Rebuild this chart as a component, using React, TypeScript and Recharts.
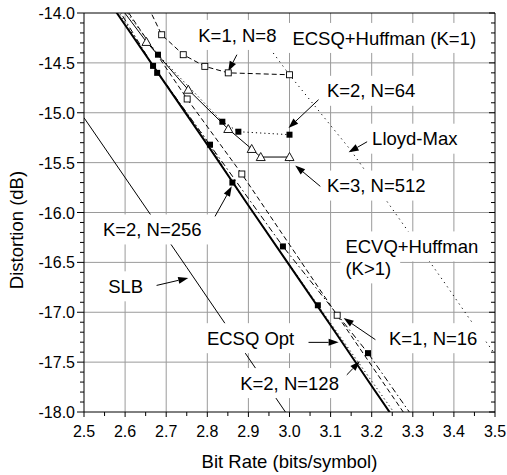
import {
  ComposedChart,
  Line,
  Scatter,
  XAxis,
  YAxis,
  CartesianGrid,
  ReferenceLine,
} from 'recharts'

// rate (bits/symbol) vs distortion (dB)
const slb = [
  { r: 2.5, d: -15.05 },
  { r: 2.75, d: -16.55 },
  { r: 3.0, d: -18.06 },
]
const ecsqOpt = [
  { r: 2.55, d: -13.82 },
  { r: 2.6, d: -14.12 },
  { r: 2.7, d: -14.72 },
  { r: 2.8, d: -15.32 },
  { r: 2.9, d: -15.93 },
  { r: 3.0, d: -16.53 },
  { r: 3.1, d: -17.13 },
  { r: 3.2, d: -17.74 },
  { r: 3.3, d: -18.34 },
]
const k1n8 = [
  { r: 2.64, d: -13.8 },
  { r: 2.689, d: -14.218 },
  { r: 2.7415, d: -14.418 },
  { r: 2.794, d: -14.535 },
  { r: 2.851, d: -14.6 },
  { r: 3.0, d: -14.619 },
]
const k1n16 = [
  { r: 2.576, d: -13.8 },
  { r: 2.751, d: -14.862 },
  { r: 2.884, d: -15.614 },
  { r: 3.116, d: -17.03 },
  { r: 3.285, d: -18.05 },
]
const k2n64 = [
  { r: 2.57, d: -13.8 },
  { r: 2.68, d: -14.418 },
  { r: 2.8366, d: -15.09 },
  { r: 2.8756, d: -15.19 },
  { r: 3.0, d: -15.22 },
]
const k2n128 = [
  { r: 2.56, d: -13.8 },
  { r: 2.668, d: -14.53 },
  { r: 2.984, d: -16.34 },
  { r: 3.191, d: -17.41 },
  { r: 3.3, d: -18.05 },
]
const k2n256 = [
  { r: 2.555, d: -13.8 },
  { r: 2.678, d: -14.6 },
  { r: 2.8066, d: -15.32 },
  { r: 2.861, d: -15.7 },
  { r: 3.069, d: -16.93 },
  { r: 3.262, d: -18.05 },
]
const k3n512 = [
  { r: 2.563, d: -13.8 },
  { r: 2.652, d: -14.29 },
  { r: 2.7537, d: -14.769 },
  { r: 2.851, d: -15.163 },
  { r: 2.908, d: -15.363 },
  { r: 2.93, d: -15.444 },
  { r: 3.0, d: -15.444 },
]
const lloydMax = [
  { r: 2.915, d: -14.15 },
  { r: 3.0, d: -14.62 },
  { r: 3.148, d: -15.37 },
  { r: 3.38, d: -16.72 },
  { r: 3.437, d: -17.06 },
  { r: 3.5, d: -17.42 },
]

const notes = [
  { r: 2.778, d: -14.22, text: 'K=1, N=8' },
  { r: 3.007, d: -14.25, text: 'ECSQ+Huffman (K=1)' },
  { r: 3.091, d: -14.78, text: 'K=2, N=64' },
  { r: 3.201, d: -15.26, text: 'Lloyd-Max' },
  { r: 3.091, d: -15.73, text: 'K=3, N=512' },
  { r: 2.546, d: -16.17, text: 'K=2, N=256' },
  { r: 2.559, d: -16.74, text: 'SLB' },
  { r: 3.136, d: -16.34, text: 'ECVQ+Huffman' },
  { r: 3.136, d: -16.56, text: '(K>1)' },
  { r: 3.242, d: -17.26, text: 'K=1, N=16' },
  { r: 2.799, d: -17.26, text: 'ECSQ Opt' },
  { r: 2.88, d: -17.71, text: 'K=2, N=128' },
]

// arrow tail -> tip
const arrows = [
  [{ x: 2.872, y: -14.418 }, { x: 2.851, y: -14.585 }],
  [{ x: 3.0707, y: -14.869 }, { x: 2.9976, y: -15.153 }],
  [{ x: 3.1976, y: -15.27 }, { x: 3.1439, y: -15.397 }],
  [{ x: 3.075, y: -15.738 }, { x: 3.0139, y: -15.528 }],
  [{ x: 2.8188, y: -16.039 }, { x: 2.8595, y: -15.738 }],
  [{ x: 2.6766, y: -16.731 }, { x: 2.7537, y: -16.657 }],
  [{ x: 3.0463, y: -17.302 }, { x: 3.1195, y: -17.302 }],
  [{ x: 3.209, y: -17.275 }, { x: 3.1317, y: -17.058 }],
  [{ x: 3.1359, y: -17.643 }, { x: 3.1712, y: -17.491 }],
]

const xTicks = [
  2.5, 2.55, 2.6, 2.65, 2.7, 2.75, 2.8, 2.85, 2.9, 2.95, 3.0,
  3.05, 3.1, 3.15, 3.2, 3.25, 3.3, 3.35, 3.4, 3.45, 3.5,
]
const yTicks = [
  -18, -17.9, -17.8, -17.7, -17.6, -17.5, -17.4, -17.3, -17.2, -17.1,
  -17, -16.9, -16.8, -16.7, -16.6, -16.5, -16.4, -16.3, -16.2, -16.1,
  -16, -15.9, -15.8, -15.7, -15.6, -15.5, -15.4, -15.3, -15.2, -15.1,
  -15, -14.9, -14.8, -14.7, -14.6, -14.5, -14.4, -14.3, -14.2, -14.1, -14,
]
const gridX = [2.6, 2.7, 2.8, 2.9, 3.0, 3.1, 3.2, 3.3, 3.4]
const gridY = [-17.5, -17, -16.5, -16, -15.5, -15, -14.5]

const FONT = "'Liberation Sans', Arial, sans-serif"
const NOTE_FS = 18.5

const isMajorX = (v: number) => Math.abs(v * 10 - Math.round(v * 10)) < 1e-6
const isMajorY = (v: number) => Math.abs(v * 2 - Math.round(v * 2)) < 1e-6

const BottomTick = ({ x, y, payload }: any) => {
  const major = isMajorX(payload.value)
  return (
    <g>
      <line x1={x} y1={y} x2={x} y2={y + (major ? 5 : 4)} stroke="#000" />
      {major && (
        <text x={x} y={y + 25} textAnchor="middle" fontSize={16} fontFamily={FONT} fill="#000">
          {payload.value.toFixed(1)}
        </text>
      )}
    </g>
  )
}
const TopTick = ({ x, y, payload }: any) => (
  <line x1={x} y1={y} x2={x} y2={y + (isMajorX(payload.value) ? 5 : 4)} stroke="#000" />
)
const LeftTick = ({ x, y, payload }: any) => {
  const major = isMajorY(payload.value)
  return (
    <g>
      <line x1={x} y1={y} x2={x - (major ? 7 : 4)} y2={y} stroke="#000" />
      {major && (
        <text x={x - 9} y={y + 6} textAnchor="end" fontSize={16} fontFamily={FONT} fill="#000">
          {payload.value.toFixed(1)}
        </text>
      )}
    </g>
  )
}
const RightTick = ({ x, y, payload }: any) => (
  <line x1={x} y1={y} x2={x - (isMajorY(payload.value) ? 6 : 4)} y2={y} stroke="#000" />
)

const openSquare = (p: any) => (
  <rect key={`os${p.index}`} x={p.cx - 3} y={p.cy - 3} width={6} height={6} fill="#fff" stroke="#000" strokeWidth={0.9} />
)
const filledSquare = (p: any) => (
  <rect key={`fs${p.index}`} x={p.cx - 3} y={p.cy - 3} width={6} height={6} fill="#000" />
)
const openTriangle = (p: any) => (
  <polygon
    key={`tr${p.index}`}
    points={`${p.cx},${p.cy - 4.5} ${p.cx - 4.5},${p.cy + 3.5} ${p.cx + 4.5},${p.cy + 3.5}`}
    fill="#fff"
    stroke="#000"
    strokeWidth={0.9}
  />
)

const Arrow = (p: any) => {
  const { x1, y1, x2, y2 } = p
  const a = Math.atan2(y2 - y1, x2 - x1)
  const L = 10
  const W = 3.5
  const bx = x2 - L * Math.cos(a)
  const by = y2 - L * Math.sin(a)
  const px = -Math.sin(a) * W
  const py = Math.cos(a) * W
  return (
    <g>
      <line x1={x1} y1={y1} x2={bx} y2={by} stroke="#000" strokeWidth={1} />
      <polygon points={`${x2},${y2} ${bx + px},${by + py} ${bx - px},${by - py}`} fill="#000" />
    </g>
  )
}

const NoteBox = (p: any) => {
  const w = p.payload.text.length * NOTE_FS * 0.56 + 8
  return <rect x={p.cx - 5} y={p.cy - 15} width={w} height={30} fill="#fff" />
}
const NoteText = (p: any) => (
  <text x={p.cx} y={p.cy + 6.6} fontSize={NOTE_FS} fontFamily={FONT} fill="#000">
    {p.payload.text}
  </text>
)

export default function App() {
  return (
    <div style={{ position: 'relative', width: 507, height: 475, background: '#fff' }}>
      <style>{'body{margin:0;background:#fff}'}</style>
      <ComposedChart
        width={507}
        height={475}
        margin={{ top: 8, right: 7, bottom: 33, left: 24 }}
      >
        <CartesianGrid
          stroke="#9a9a9a"
          strokeWidth={1}
          verticalValues={gridX}
          horizontalValues={gridY}
        />
        <XAxis
          dataKey="r"
          type="number"
          domain={[2.5, 3.5]}
          allowDataOverflow
          ticks={xTicks}
          interval={0}
          height={30}
          tickSize={0}
          tickMargin={0}
          tickLine={false}
          tick={BottomTick}
          axisLine={{ stroke: '#000' }}
        />
        <XAxis
          xAxisId="top"
          orientation="top"
          type="number"
          domain={[2.5, 3.5]}
          allowDataOverflow
          ticks={xTicks}
          interval={0}
          height={5}
          tickSize={0}
          tickMargin={0}
          tickLine={false}
          tick={TopTick}
          axisLine={{ stroke: '#000' }}
        />
        <YAxis
          dataKey="d"
          type="number"
          domain={[-18, -14]}
          allowDataOverflow
          ticks={yTicks}
          interval={0}
          width={60}
          tickSize={0}
          tickMargin={0}
          tickLine={false}
          tick={LeftTick}
          axisLine={{ stroke: '#000' }}
        />
        <YAxis
          yAxisId="right"
          orientation="right"
          type="number"
          domain={[-18, -14]}
          allowDataOverflow
          ticks={yTicks}
          interval={0}
          width={5}
          tickSize={0}
          tickMargin={0}
          tickLine={false}
          tick={RightTick}
          axisLine={{ stroke: '#000' }}
        />

        <Line data={slb} dataKey="d" stroke="#000" strokeWidth={1} dot={false} activeDot={false} isAnimationActive={false} />
        <Line data={ecsqOpt} dataKey="d" stroke="#000" strokeWidth={2} dot={false} activeDot={false} isAnimationActive={false} />
        <Line data={lloydMax} dataKey="d" stroke="#000" strokeWidth={1} strokeDasharray="1.2 4" dot={false} activeDot={false} isAnimationActive={false} />
        <Line data={k2n256} dataKey="d" stroke="#000" strokeWidth={1} strokeDasharray="1.2 3" dot={filledSquare} activeDot={false} isAnimationActive={false} />
        <Line data={k2n128} dataKey="d" stroke="#000" strokeWidth={1} strokeDasharray="6 3 1.5 3" dot={filledSquare} activeDot={false} isAnimationActive={false} />
        <Line data={k1n16} dataKey="d" stroke="#000" strokeWidth={1} strokeDasharray="5 3" dot={openSquare} activeDot={false} isAnimationActive={false} />
        <Line data={k1n8} dataKey="d" stroke="#000" strokeWidth={1} strokeDasharray="5 3" dot={openSquare} activeDot={false} isAnimationActive={false} />
        <Line data={k2n64} dataKey="d" stroke="#000" strokeWidth={1} strokeDasharray="1.2 3" dot={filledSquare} activeDot={false} isAnimationActive={false} />
        <Line data={k3n512} dataKey="d" stroke="#000" strokeWidth={1} dot={openTriangle} activeDot={false} isAnimationActive={false} />

        <Scatter data={notes} dataKey="d" shape={NoteBox} isAnimationActive={false} />
        {arrows.map((seg, i) => (
          <ReferenceLine key={`ar${i}`} segment={seg} shape={Arrow} ifOverflow="visible" />
        ))}
        <Scatter data={notes} dataKey="d" shape={NoteText} isAnimationActive={false} />
      </ComposedChart>
      <div
        style={{
          position: 'absolute',
          left: 139.5,
          top: 451,
          width: 300,
          textAlign: 'center',
          fontFamily: FONT,
          fontSize: 18.5,
          lineHeight: '22px',
        }}
      >
        Bit Rate (bits/symbol)
      </div>
      <div
        style={{
          position: 'absolute',
          left: -83,
          top: 219,
          width: 200,
          height: 22,
          textAlign: 'center',
          fontFamily: FONT,
          fontSize: 18.5,
          lineHeight: '22px',
          transform: 'rotate(-90deg)',
          transformOrigin: 'center',
        }}
      >
        Distortion (dB)
      </div>
    </div>
  )
}
